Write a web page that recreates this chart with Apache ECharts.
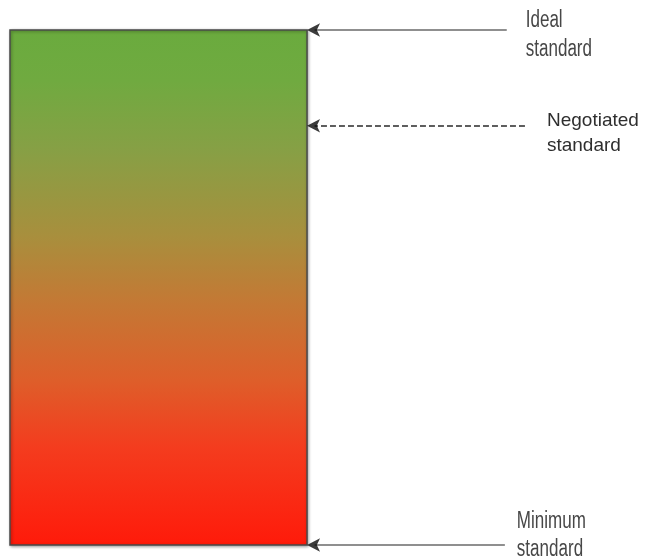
<!DOCTYPE html>
<html>
<head>
<meta charset="utf-8">
<script src="https://cdn.jsdelivr.net/npm/echarts@6/dist/echarts.min.js"></script>
<style>
html,body{margin:0;padding:0;background:#fff;}
#main{width:648px;height:559px;}
</style>
</head>
<body>
<div id="main"></div>
<script>
// ---- data ----
const levelNames = ['Ideal\nstandard', 'Negotiated\nstandard', 'Minimum\nstandard'];
const levelValues = [100, 81.4, 0];          // position on the standard scale (0 = minimum, 100 = ideal)
const scaleRange = [0, 100];                 // bottom and top of the coloured bar

// ---- layout / style (not data) ----
const barRight = 47.3;                       // right edge of bar on the x scale
const arrowStart = [79.1, 82.0, 78.8];
const lineTypes = ['solid', 'dashed', 'solid'];
const lineColors = ['#8f8f8f', '#2a2a2a', '#8f8f8f'];
const lineWidths = [2, 1.5, 2];
const labelStyles = [
  {fontFamily: "'Liberation Sans',Arial,sans-serif", fontSize: 23, lineHeight: 29, fill: '#474747', scaleX: 0.74, dx: 19, dy: 5.5},
  {fontFamily: "'Liberation Sans',Arial,sans-serif", fontSize: 19, lineHeight: 25, fill: '#2e2e2e', scaleX: 1, dx: 22, dy: 7.5},
  {fontFamily: "'Liberation Sans',Arial,sans-serif", fontSize: 23, lineHeight: 28, fill: '#474747', scaleX: 0.74, dx: 12, dy: -9}
];

const chart = echarts.init(document.getElementById('main'));

const markLineData = levelValues.map((v, i) => [
  {coord: [arrowStart[i], v], lineStyle: {type: lineTypes[i], color: lineColors[i], width: lineWidths[i]}},
  {coord: [barRight + 1.2, v]}
]);

const labelData = levelValues.map((v, i) => [arrowStart[i], v, i]);
const arrowData = levelValues.map(v => [barRight, v]);

chart.setOption({
  backgroundColor: '#fff',
  animation: false,
  grid: {left: 10, right: 10, top: 30, bottom: 14, containLabel: false},
  xAxis: {type: 'value', min: 0, max: 100, show: false},
  yAxis: {type: 'value', min: scaleRange[0], max: scaleRange[1], show: false},
  series: [
    {
      type: 'custom',
      silent: true,
      data: [[0, scaleRange[0], barRight, scaleRange[1]]],
      renderItem: function (params, api) {
        const p0 = api.coord([api.value(0), api.value(3)]);
        const p1 = api.coord([api.value(2), api.value(1)]);
        return {
          type: 'rect',
          shape: {x: p0[0], y: p0[1], width: p1[0] - p0[0], height: p1[1] - p0[1]},
          style: {
            fill: new echarts.graphic.LinearGradient(0, 0, 0, 1, [
              {offset: 0, color: '#6aab3e'},
              {offset: 0.1, color: '#70aa40'},
              {offset: 0.23, color: '#86a045'},
              {offset: 0.4, color: '#a88f3d'},
              {offset: 0.52, color: '#c27a35'},
              {offset: 0.68, color: '#de5e2a'},
              {offset: 0.81, color: '#f43c1e'},
              {offset: 1, color: '#ff1a0a'}
            ]),
            stroke: '#4a4a4a',
            lineWidth: 1.5,
            shadowBlur: 3,
            shadowColor: 'rgba(0,0,0,0.35)',
            shadowOffsetX: 1,
            shadowOffsetY: 1
          }
        };
      },
      markLine: {
        silent: true,
        symbol: ['none', 'none'],
        label: {show: false},
        emphasis: {disabled: true},
        data: markLineData
      }
    },
    {
      type: 'scatter',
      silent: true,
      symbol: 'arrow',
      symbolSize: [10, 13],
      symbolRotate: 90,
      symbolOffset: [0, 0],
      itemStyle: {color: '#0a0a0a'},
      z: 5,
      data: arrowData
    },
    {
      type: 'custom',
      silent: true,
      data: labelData,
      renderItem: function (params, api) {
        const i = api.value(2);
        const s = labelStyles[i];
        const p = api.coord([api.value(0), api.value(1)]);
        return {
          type: 'text',
          x: p[0] + s.dx,
          y: p[1] + s.dy,
          scaleX: s.scaleX,
          style: {
            text: levelNames[i],
            fontFamily: s.fontFamily,
            fontSize: s.fontSize,
            lineHeight: s.lineHeight,
            fill: s.fill,
            align: 'left',
            verticalAlign: 'middle'
          }
        };
      }
    }
  ]
});
</script>
</body>
</html>
